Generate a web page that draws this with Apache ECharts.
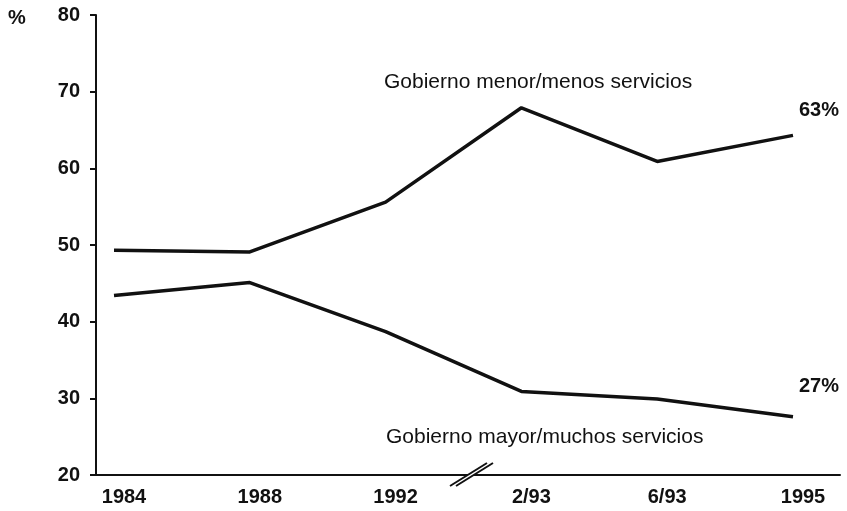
<!DOCTYPE html>
<html>
<head>
<meta charset="utf-8">
<script src="https://cdn.jsdelivr.net/npm/echarts@6/dist/echarts.min.js"></script>
<style>
  html, body { margin: 0; padding: 0; background: #fff; }
  #chart { width: 847px; height: 511px; }
</style>
</head>
<body>
<div id="chart"></div>
<script>
// values
const categories = ['1984', '1988', '1992', '2/93', '6/93', '1995'];
const menor = [49.3, 49.1, 55.6, 67.9, 60.9, 64.3];
const mayor = [43.4, 45.1, 38.7, 30.9, 29.9, 27.6];
const seriesNames = ['Gobierno menor/menos servicios', 'Gobierno mayor/muchos servicios'];
const endTexts = ['63%', '27%'];
const yTicks = { min: 20, max: 80, step: 10 };

const FONT = '"Liberation Sans", Arial, Helvetica, sans-serif';
const INK = '#111';

const chart = echarts.init(document.getElementById('chart'));

function lineSeries(name, data, endText, dy) {
  return {
    name,
    type: 'line',
    xAxisIndex: 1,
    yAxisIndex: 1,
    data,
    symbol: 'none',
    lineStyle: { color: INK, width: 3.5 },
    endLabel: {
      show: true,
      formatter: endText,
      offset: [-2, dy],
      color: INK,
      fontFamily: FONT,
      fontSize: 20,
      fontWeight: 'bold'
    },
    animation: false
  };
}

chart.setOption({
  backgroundColor: '#fff',
  animation: false,
  // grid 0 carries the visible axes, grid 1 places the data points
  grid: [
    { left: 96, right: 7, top: 15, bottom: 36 },
    { left: 114, right: 54, top: 15, bottom: 36 }
  ],
  xAxis: [
    {
      gridIndex: 0, type: 'value', min: 0, max: 1,
      axisLine: { show: true, lineStyle: { color: INK, width: 2 } },
      axisTick: { show: false }, axisLabel: { show: false }, splitLine: { show: false }
    },
    {
      gridIndex: 1, type: 'category', data: categories, boundaryGap: false,
      axisLine: { show: false }, axisTick: { show: false }, splitLine: { show: false },
      axisLabel: {
        color: INK, fontFamily: FONT, fontSize: 20, fontWeight: 'bold',
        margin: 12, padding: [0, 0, 0, 20]
      }
    }
  ],
  yAxis: [
    {
      gridIndex: 0, type: 'value', min: yTicks.min, max: yTicks.max, interval: yTicks.step,
      axisLine: { show: true, lineStyle: { color: INK, width: 2 } },
      axisTick: { show: true, length: 6, lineStyle: { color: INK, width: 2 } },
      axisLabel: { color: INK, fontFamily: FONT, fontSize: 20, fontWeight: 'bold', margin: 16 },
      splitLine: { show: false }
    },
    { gridIndex: 1, type: 'value', min: yTicks.min, max: yTicks.max, show: false }
  ],
  graphic: [
    {
      type: 'text', left: 8, top: 8,
      style: { text: '%', fill: INK, font: 'bold 20px ' + FONT }
    },
    {
      type: 'text', left: 384, top: 72,
      style: { text: seriesNames[0], fill: INK, font: '21px ' + FONT }
    },
    {
      type: 'text', left: 386, top: 427,
      style: { text: seriesNames[1], fill: INK, font: '21px ' + FONT }
    },
    // axis break on the category axis
    {
      type: 'polygon', z: 100,
      shape: { points: [[450, 486], [487, 463], [493, 463], [456, 486]] },
      style: { fill: '#fff' }
    },
    {
      type: 'line', z: 101,
      shape: { x1: 450, y1: 486, x2: 487, y2: 463 },
      style: { stroke: INK, lineWidth: 2 }
    },
    {
      type: 'line', z: 101,
      shape: { x1: 456, y1: 486, x2: 493, y2: 463 },
      style: { stroke: INK, lineWidth: 2 }
    }
  ],
  series: [
    lineSeries(seriesNames[0], menor, endTexts[0], -25),
    lineSeries(seriesNames[1], mayor, endTexts[1], -30)
  ]
});
</script>
</body>
</html>
